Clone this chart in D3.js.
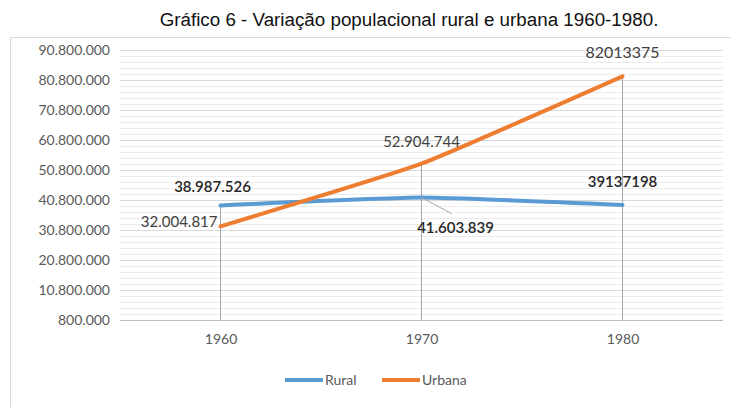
<!DOCTYPE html>
<html><head><meta charset="utf-8">
<script src="https://cdn.jsdelivr.net/npm/d3@7"></script>
<style>html,body{margin:0;padding:0;background:#fff;}svg{display:block;}</style>
</head><body>
<svg id="c" width="731" height="407"></svg>
<script>
const years = ["1960", "1970", "1980"];
const rural = [38987526, 41603839, 39137198];
const urbana = [32004817, 52904744, 82013375];
const ruralLabels = ["38.987.526", "41.603.839", "39137198"];
const urbanaLabels = ["32.004.817", "52.904.744", "82013375"];
const yTicks = [800000, 10800000, 20800000, 30800000, 40800000, 50800000, 60800000, 70800000, 80800000, 90800000];
const yTickLabels = ["800.000", "10.800.000", "20.800.000", "30.800.000", "40.800.000", "50.800.000", "60.800.000", "70.800.000", "80.800.000", "90.800.000"];
const title = "Gráfico 6 - Variação populacional rural e urbana 1960-1980.";

const svg = d3.select("#c");
const labFont = "Lato, 'Open Sans', sans-serif";
const x = d3.scalePoint().domain(years).range([120, 723]).padding(0.5);
const y = d3.scaleLinear().domain([800000, 90800000]).range([320, 50]);

// chart border
svg.append("rect").attr("x", 10.5).attr("y", 37.5).attr("width", 740).attr("height", 400)
  .attr("fill", "none").attr("stroke", "#d9d9d9");

// title
svg.append("text").attr("x", 409).attr("y", 26).attr("text-anchor", "middle")
  .attr("font-family", "'Liberation Sans', Arial, sans-serif").attr("font-size", 18.8).attr("fill", "#111")
  .text(title);

// minor gridlines
const minor = d3.range(800000, 90800001, 2000000).filter(v => !yTicks.includes(v));
svg.append("g").selectAll("line").data(minor).join("line")
  .attr("x1", 120).attr("x2", 723).attr("y1", d => Math.round(y(d)) + 0.5).attr("y2", d => Math.round(y(d)) + 0.5)
  .attr("stroke", "#ececec").attr("stroke-width", 1);

// y axis with major gridlines
const yAxis = d3.axisLeft(y).tickValues(yTicks).tickFormat((d, i) => yTickLabels[i]).tickSize(-603).tickPadding(10);
const gy = svg.append("g").attr("transform", "translate(120,0)").call(yAxis);
gy.select(".domain").remove();
gy.selectAll(".tick line").attr("stroke", "#d9d9d9");
gy.selectAll(".tick text").attr("font-family", labFont).attr("font-size", 14).attr("fill", "#595959");

// x axis
const xAxis = d3.axisBottom(x).tickSize(0).tickPadding(14);
const gx = svg.append("g").attr("transform", "translate(0,320)").call(xAxis);
gx.select(".domain").attr("stroke", "#bfbfbf").attr("d", "M120,0.5H723");
gx.selectAll(".tick text").attr("font-family", labFont).attr("font-size", 14).attr("fill", "#595959");

// drop lines
svg.append("g").selectAll("line").data(years).join("line")
  .attr("x1", d => x(d)).attr("x2", d => x(d))
  .attr("y1", (d, i) => y(Math.max(rural[i], urbana[i]))).attr("y2", y(800000))
  .attr("stroke", "#a6a6a6").attr("stroke-width", 1);

// lines
const line = d3.line().x((d, i) => x(years[i])).y(d => y(d)).curve(d3.curveCardinal.tension(0.6));
svg.append("path").datum(rural).attr("d", line).attr("fill", "none").attr("stroke", "#5b9bd5").attr("stroke-width", 4).attr("stroke-linecap", "round");
svg.append("path").datum(urbana).attr("d", line).attr("fill", "none").attr("stroke", "#ed7d31").attr("stroke-width", 4).attr("stroke-linecap", "round");

// leader line for 41.603.839
svg.append("line").attr("x1", x("1970")).attr("y1", y(rural[1]))
  .attr("x2", x("1970") + 30).attr("y2", y(rural[1]) + 16).attr("stroke", "#a6a6a6");

// data labels
const rPos = [[x("1960") - 8, y(rural[0]) - 13, "middle"], [x("1970") + 34, y(rural[1]) + 35, "middle"], [x("1980"), y(rural[2]) - 18, "middle"]];
svg.append("g").selectAll("text").data(ruralLabels).join("text")
  .attr("x", (d, i) => rPos[i][0]).attr("y", (d, i) => rPos[i][1]).attr("text-anchor", (d, i) => rPos[i][2])
  .attr("font-family", labFont).attr("font-size", 15).attr("font-weight", 600).attr("fill", "#262626").text(d => d);
const uPos = [[x("1960") - 3, y(urbana[0]) + 1, "end"], [x("1970"), y(urbana[1]) - 17, "middle"], [x("1980"), y(urbana[2]) - 18, "middle"]];
svg.append("g").selectAll("text").data(urbanaLabels).join("text")
  .attr("x", (d, i) => uPos[i][0]).attr("y", (d, i) => uPos[i][1]).attr("text-anchor", (d, i) => uPos[i][2])
  .attr("font-family", labFont).attr("font-size", (d, i) => i === 2 ? 16 : 15).attr("fill", "#404040").text(d => d);

// legend
const leg = [["Rural", "#5b9bd5", 285], ["Urbana", "#ed7d31", 382]];
const lg = svg.append("g").selectAll("g").data(leg).join("g").attr("transform", d => `translate(${d[2]},380)`);
lg.append("line").attr("x1", 0).attr("x2", 38).attr("stroke", d => d[1]).attr("stroke-width", 4);
lg.append("text").attr("x", 40).attr("y", 5).attr("font-family", labFont).attr("font-size", 14).attr("fill", "#595959").text(d => d[0]);
</script>
</body></html>
